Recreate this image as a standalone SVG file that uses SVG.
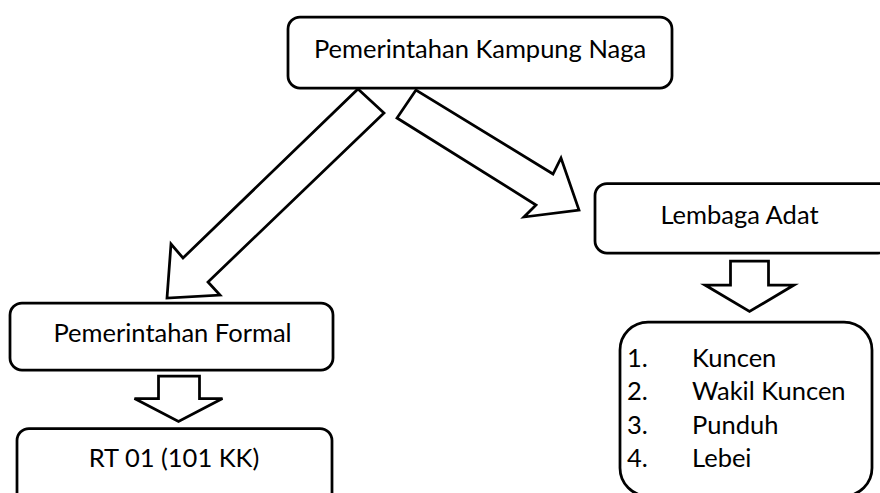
<svg xmlns="http://www.w3.org/2000/svg" width="880" height="493" viewBox="0 0 880 493">
<style>
.box{fill:#fff;stroke:#000;stroke-width:2.75}
.arr{fill:#fff;stroke:#000;stroke-width:2.75;stroke-linejoin:miter}
.t{font-family:Lato,"Open Sans","Liberation Sans",sans-serif;font-size:25.5px;fill:#000}
.c{text-anchor:middle}
</style>
<rect width="880" height="493" fill="#fff"/>
<g id="connectors">
<polygon class="arr" points="358,89 384,113 208,282 220,295 167,298 171,244 183,258"/>
<polygon class="arr" points="416,90 397,118 536,205 524,217 579,210 561,158 553,174"/>
<polygon class="arr" points="158.5,376 199.5,376 199.5,398.5 222.5,398.5 178.5,421.5 134.5,398.5 158.5,398.5"/>
<polygon class="arr" points="730.5,261 768.5,261 768.5,285 794,285 749.5,311.5 705,285 730.5,285"/>
</g>
<g id="node-kampung-naga">
<rect class="box" x="288" y="17" width="384" height="71" rx="12"/>
<text class="t c" x="480" y="58">Pemerintahan Kampung Naga</text>
</g>
<g id="node-lembaga-adat">
<rect class="box" x="595" y="183.5" width="295" height="69.5" rx="12"/>
<text class="t c" x="739.5" y="223.5">Lembaga Adat</text>
</g>
<g id="node-pemerintahan-formal">
<rect class="box" x="10" y="303" width="323" height="67" rx="12"/>
<text class="t c" x="172.5" y="342">Pemerintahan Formal</text>
</g>
<g id="node-rt">
<rect class="box" x="17" y="428.5" width="315" height="80" rx="12"/>
<text class="t c" x="174" y="467">RT 01 (101 KK)</text>
</g>
<g id="node-list">
<rect class="box" x="620" y="322" width="252" height="174" rx="28"/>
<text class="t" x="627" y="367">1.</text><text class="t" x="692" y="367">Kuncen</text>
<text class="t" x="627" y="400">2.</text><text class="t" x="692" y="400">Wakil Kuncen</text>
<text class="t" x="627" y="433.5">3.</text><text class="t" x="692" y="433.5">Punduh</text>
<text class="t" x="627" y="467">4.</text><text class="t" x="692" y="467">Lebei</text>
</g>
</svg>
